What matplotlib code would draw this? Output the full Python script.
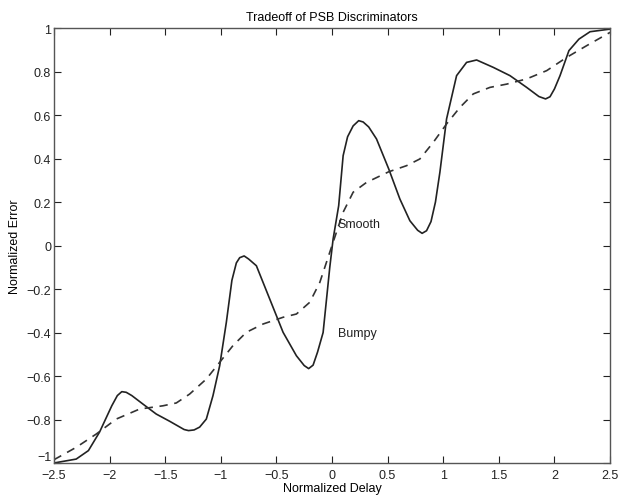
import matplotlib
matplotlib.use('Agg')
import matplotlib.pyplot as plt
import numpy as np
from matplotlib.ticker import FuncFormatter

plt.rcParams['font.family'] = ['Liberation Sans', 'DejaVu Sans']

# bumpy discriminator (solid)
bumpy_x = [-2.5, -2.3, -2.19, -2.09, -1.98, -1.93, -1.89, -1.85, -1.80, -1.70,
           -1.58, -1.46, -1.33, -1.29, -1.24, -1.19, -1.13, -1.07, -1.01, -0.95,
           -0.90, -0.86, -0.83, -0.79, -0.75, -0.68, -0.56, -0.44, -0.32, -0.25,
           -0.21, -0.17, -0.13, -0.08, -0.02, 0.01, 0.06, 0.10, 0.14, 0.19,
           0.24, 0.28, 0.33, 0.40, 0.51, 0.61, 0.70, 0.77, 0.81, 0.85,
           0.89, 0.93, 0.97, 1.03, 1.12, 1.21, 1.30, 1.45, 1.60, 1.75,
           1.86, 1.92, 1.96, 2.00, 2.05, 2.13, 2.22, 2.32, 2.5]
bumpy_y = [-1.0, -0.982, -0.943, -0.858, -0.737, -0.69, -0.672, -0.675, -0.69, -0.729,
           -0.775, -0.808, -0.846, -0.851, -0.848, -0.835, -0.798, -0.69, -0.553, -0.353,
           -0.16, -0.08, -0.056, -0.048, -0.062, -0.093, -0.246, -0.399, -0.507, -0.552,
           -0.566, -0.55, -0.49, -0.40, -0.10, 0.03, 0.183, 0.413, 0.50, 0.55,
           0.574, 0.568, 0.545, 0.49, 0.352, 0.214, 0.114, 0.07, 0.056, 0.068,
           0.11, 0.20, 0.337, 0.582, 0.781, 0.842, 0.853, 0.819, 0.781, 0.727,
           0.685, 0.674, 0.684, 0.72, 0.781, 0.896, 0.949, 0.983, 0.995]

# smooth discriminator (dashed)
smooth_x = [-2.5, -2.3, -2.12, -1.94, -1.73, -1.52, -1.40, -1.28, -1.13, -1.01,
            -0.89, -0.77, -0.62, -0.44, -0.32, -0.20, -0.11, 0.0, 0.10, 0.19,
            0.31, 0.51, 0.67, 0.79, 0.91, 1.03, 1.15, 1.27, 1.42, 1.57,
            1.75, 1.93, 2.11, 2.29, 2.5]
smooth_y = [-0.985, -0.928, -0.867, -0.798, -0.752, -0.737, -0.724, -0.683, -0.614, -0.537,
            -0.46, -0.399, -0.361, -0.33, -0.315, -0.261, -0.17, 0.0, 0.153, 0.245,
            0.29, 0.339, 0.367, 0.398, 0.474, 0.559, 0.635, 0.697, 0.727, 0.742,
            0.766, 0.804, 0.865, 0.919, 0.98]

xticks = np.arange(-2.5, 2.51, 0.5)
yticks = np.arange(-1, 1.01, 0.2)


def tick_fmt(v, p):
    v = round(v, 2)
    if abs(v) < 1e-9:
        return '0'
    return ('%g' % v).replace('-', '\u2212')


fig = plt.figure(figsize=(6.2, 5.02), dpi=100)
ax = fig.add_axes([0.087, 0.0757, 0.897, 0.8665])

ax.plot(bumpy_x, bumpy_y, color='#222222', lw=1.2)
ax.plot(smooth_x, smooth_y, color='#333333', lw=1.2, ls=(0, (5, 4)))

ax.text(0.05, 0.1, 'Smooth', fontsize=9, va='center', color='#222222')
ax.text(0.05, -0.4, 'Bumpy', fontsize=9, va='center', color='#222222')

ax.set_xlim(-2.5, 2.5)
ax.set_ylim(-1, 1)
ax.set_xticks(xticks)
ax.set_yticks(yticks)
ax.xaxis.set_major_formatter(FuncFormatter(tick_fmt))
ax.yaxis.set_major_formatter(FuncFormatter(tick_fmt))
ax.tick_params(direction='in', top=True, right=True, length=5, width=0.8,
               labelsize=9, colors='#222222')
ax.tick_params(axis='x', pad=4)
ax.tick_params(axis='y', pad=2)
# lift the bottom y label a little so it sits above the -2.5 label
ax.get_yticklabels()[0].set_va('bottom')
for s in ax.spines.values():
    s.set_color('#555555')
    s.set_linewidth(1.0)

ax.set_title('Tradeoff of PSB Discriminators', fontsize=9, pad=6)
ax.set_xlabel('Normalized Delay', fontsize=9, labelpad=1)
ax.set_ylabel('Normalized Error', fontsize=9, labelpad=4)

plt.savefig('out.png', dpi=100)
